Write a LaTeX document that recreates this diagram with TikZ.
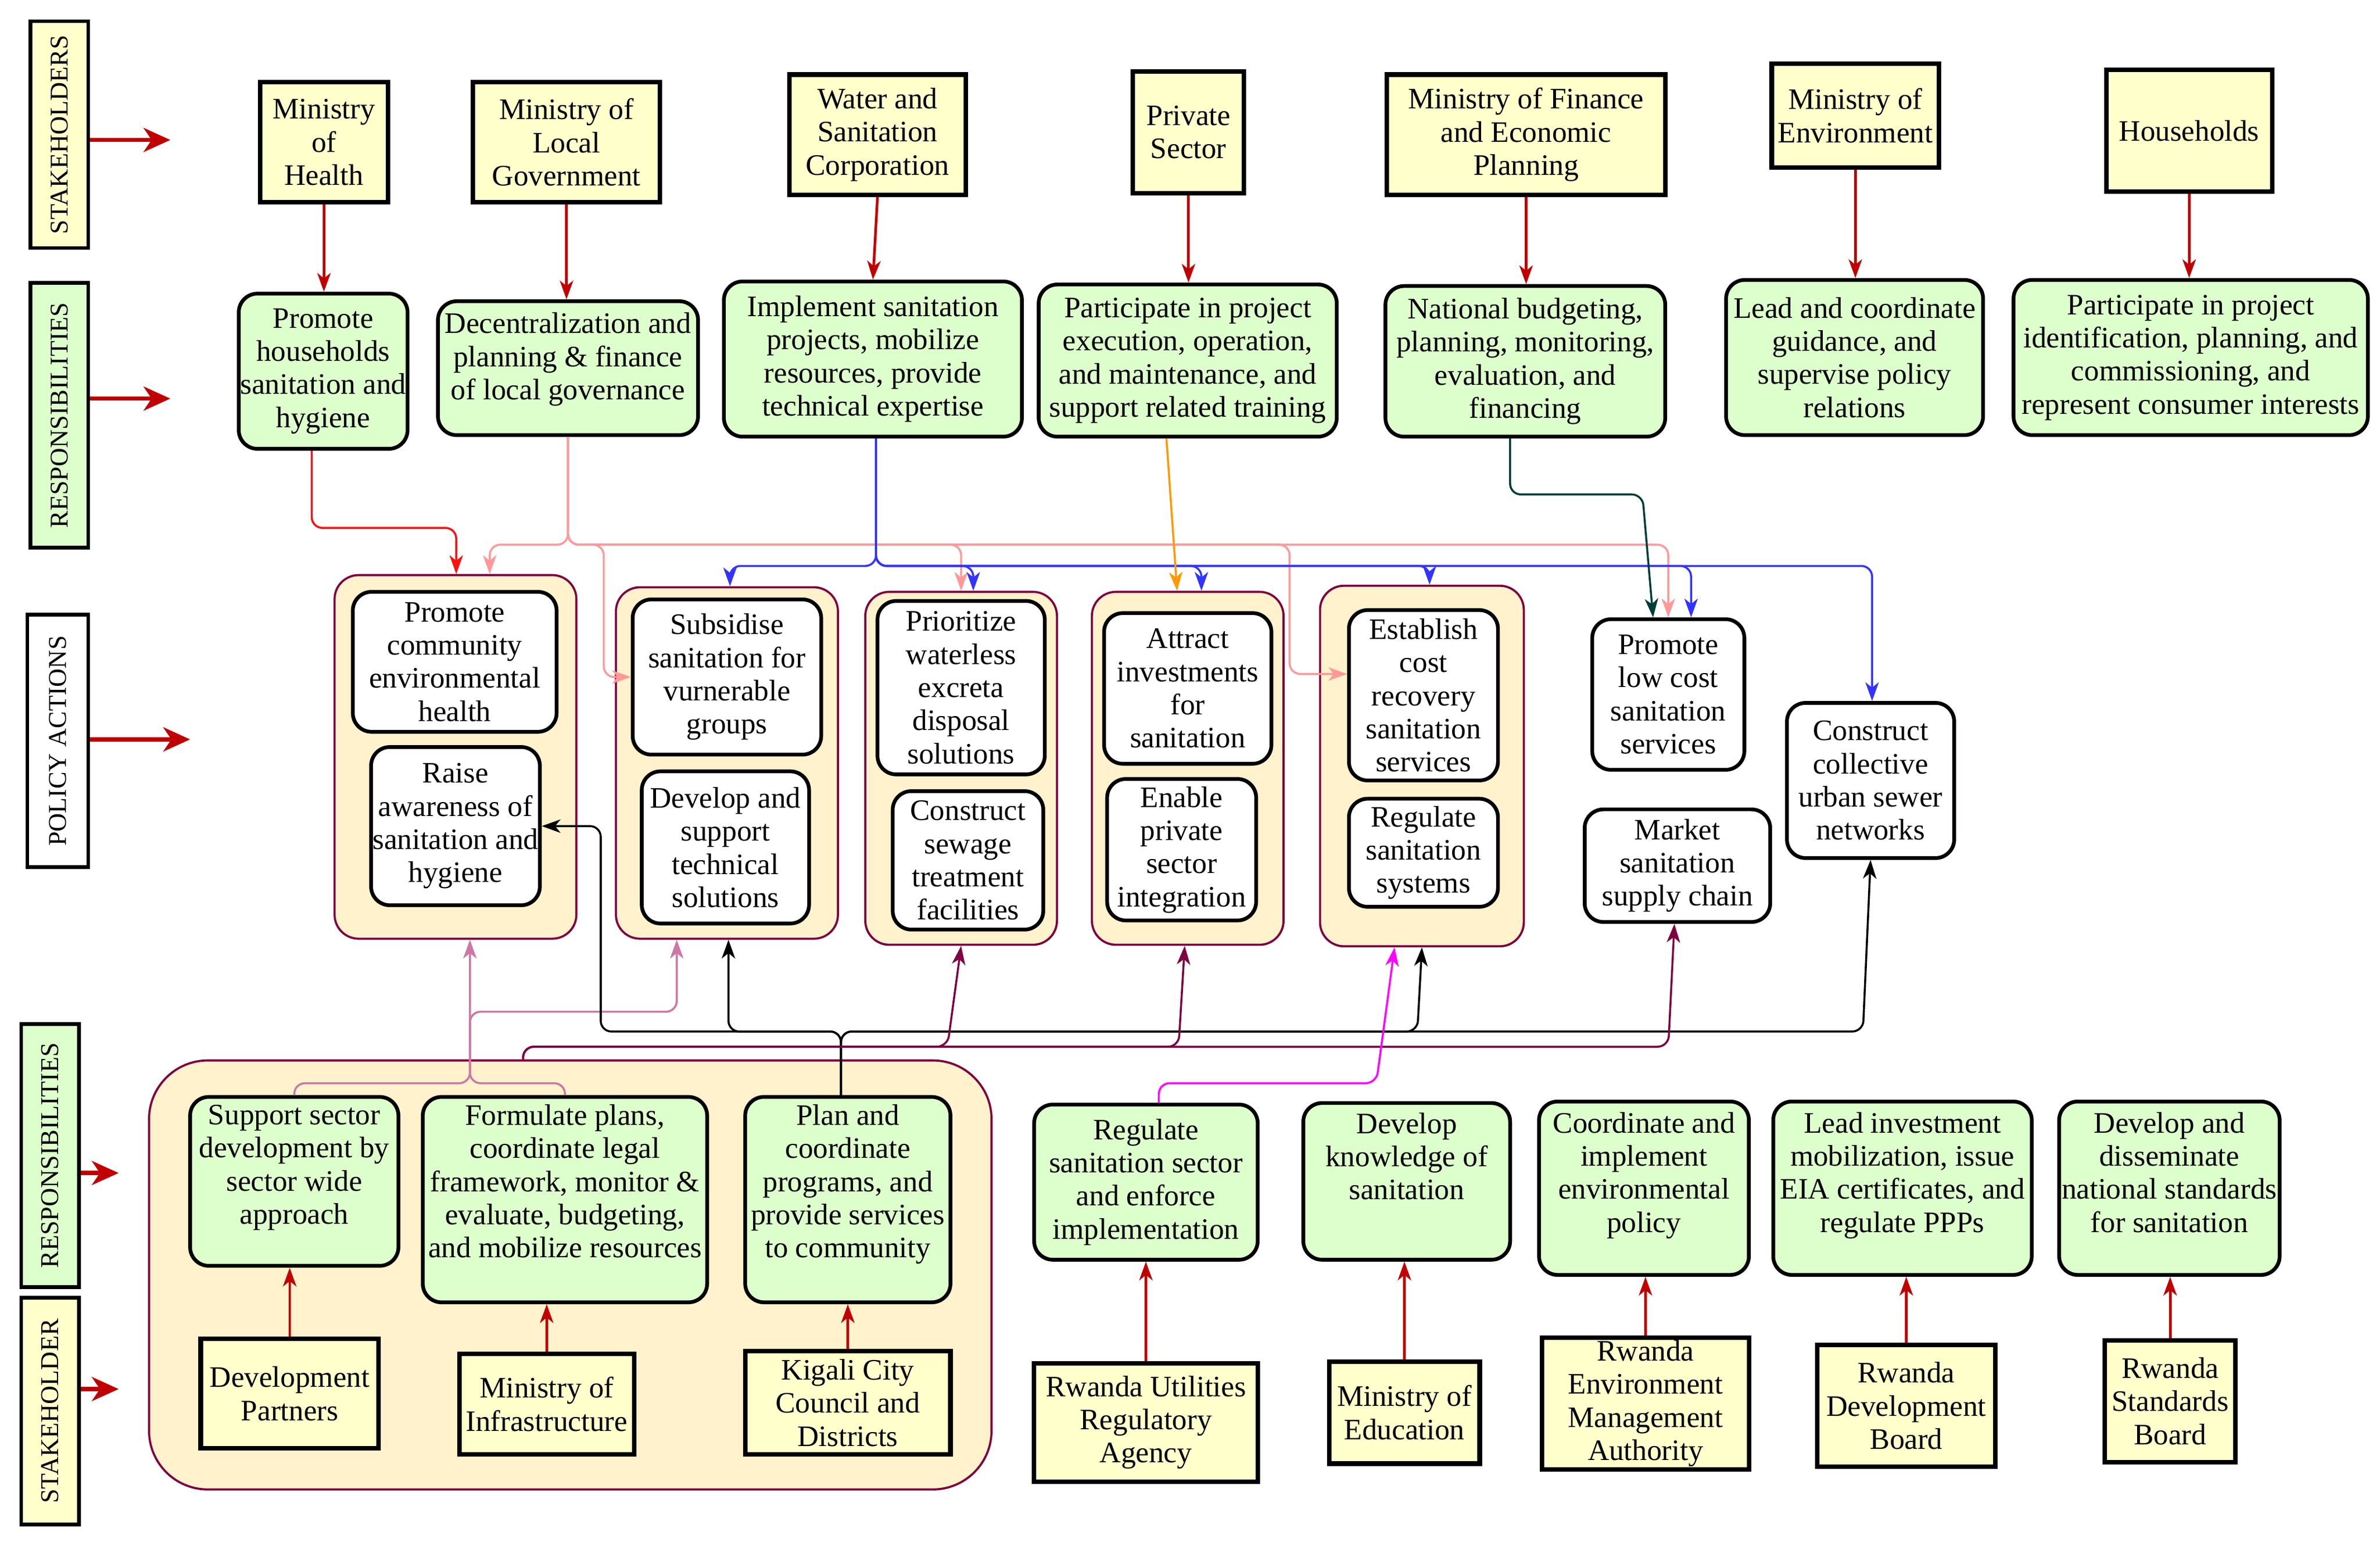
\documentclass[tikz,border=0pt]{standalone}
\usepackage{fontspec}
\setmainfont{Liberation Serif}
\renewcommand{\familydefault}{\rmdefault}
\usetikzlibrary{arrows.meta}

\definecolor{stakefill}{HTML}{FFFFCC}
\definecolor{respfill}{HTML}{DDFFCC}
\definecolor{grpfill}{HTML}{FFF2CC}
\definecolor{grpline}{HTML}{7F0040}
\definecolor{darkred}{HTML}{C00000}
\definecolor{linkred}{HTML}{FF1010}
\definecolor{linkpink}{HTML}{FF9999}
\definecolor{linkblue}{HTML}{3333FF}
\definecolor{linkorange}{HTML}{FF9900}
\definecolor{linkteal}{HTML}{003D3A}
\definecolor{linkmauve}{HTML}{CC77A6}
\definecolor{linkmaroon}{HTML}{7F0040}
\definecolor{linkmagenta}{HTML}{FF00FF}

\newcommand{\nodetextfont}{\rmfamily\fontsize{11.1}{12.4}\selectfont}
\newcommand{\sidetextfont}{\rmfamily\fontsize{9.6}{11}\selectfont}

\begin{document}
\begin{tikzpicture}[x=0.02cm, y=-0.02cm]
	\tikzstyle{every node}=[align=center, inner xsep=0pt, inner ysep=1pt, font=\nodetextfont]
	\tikzset{sz/.style 2 args={minimum width=#1*0.02cm, minimum height=#2*0.02cm},
		lift/.style={text depth=#1}}
	\tikzstyle{side}=[draw, line width=1.4pt, rotate=90, font=\sidetextfont]
	\tikzstyle{stake}=[draw, line width=1.7pt, fill=stakefill]
	\tikzstyle{resp}=[draw, line width=1.4pt, fill=respfill, rounded corners=7pt]
	\tikzstyle{act}=[draw, line width=1.4pt, fill=white, rounded corners=7pt]
	\tikzstyle{grp}=[draw=grpline, line width=0.8pt, fill=grpfill, rounded corners=9pt]
	\tikzstyle{link}=[->, >={Stealth[length=7pt, width=5pt, inset=2pt]}, line width=0.75pt, rounded corners=4pt]
	\tikzstyle{feed}=[link, darkred, line width=1pt]
	\tikzstyle{sidearr}=[->, >={Stealth[length=10pt, width=9pt, inset=3pt]}, darkred, line width=1.6pt]

	\useasboundingbox (0,0) rectangle (1565,1016);

	% row labels
	\node[side, sz={149}{38}, fill=stakefill] (lstake)  at (39,88.5)  {STAKEHOLDERS};
	\node[side, sz={174}{38}, fill=respfill]  (lresp)   at (39,273)   {RESPONSIBILITIES};
	\node[side, sz={166}{40}, fill=white]     (lact)    at (38,487)   {POLICY ACTIONS};
	\node[side, sz={173}{38}, fill=respfill]  (lresp2)  at (33,759.5) {RESPONSIBILITIES};
	\node[side, sz={149}{38}, fill=stakefill] (lstake2) at (33,927.5) {STAKEHOLDER};

	\coordinate (tstake)  at (112,92);
	\coordinate (tresp)   at (112,262);
	\coordinate (tact)    at (125,486);
	\coordinate (tresp2)  at (78,771);
	\coordinate (tstake2) at (78,913);

	% stakeholders, top
	\node[stake, sz={84}{79}]  (moh)       at (213,93.5)   {Ministry\\of\\Health};
	\node[stake, sz={123}{79}] (molg)      at (372.5,93.5) {Ministry of\\Local\\Government};
	\node[stake, sz={116}{79}] (wasac)     at (577,88.5)   {Water and\\Sanitation\\Corporation};
	\node[stake, sz={73}{80}]  (priv)      at (781.5,87)   {Private\\Sector};
	\node[stake, sz={183}{79}] (minecofin) at (1003.5,88.5) {Ministry of Finance\\and Economic\\Planning};
	\node[stake, sz={110}{68}] (moe)       at (1220,76)    {Ministry of\\Environment};
	\node[stake, sz={109}{80}] (hh)        at (1439.5,86)  {Households};

	% responsibilities, top
	\node[resp, sz={111}{102}] (rmoh)       at (212.5,244)  {Promote\\households\\sanitation and\\hygiene};
	\node[resp, sz={171}{88}, lift=9pt] (rmolg) at (373.5,242) {Decentralization and\\planning \& finance\\of local governance};
	\node[resp, sz={196}{102}] (rwasac)     at (574,236)    {Implement sanitation\\projects, mobilize\\resources, provide\\technical expertise};
	\node[resp, sz={196}{100}] (rpriv)      at (781,237)    {Participate in project\\execution, operation,\\and maintenance, and\\support related training};
	\node[resp, sz={184}{99}]  (rminecofin) at (1003,237.5) {National budgeting,\\planning, monitoring,\\evaluation, and\\financing};
	\node[resp, sz={169}{102}] (rmoe)       at (1219.5,235) {Lead and coordinate\\guidance, and\\supervise policy\\relations};
	\node[resp, sz={233}{102}] (rhh)        at (1440.5,235) {Participate in project\\identification, planning, and\\commissioning, and\\represent consumer interests};

	% policy actions
	\node[grp, sz={159}{239}] (g1) at (299.5,497.5) {};
	\node[grp, sz={146}{231}] (g2) at (478,501.5) {};
	\node[grp, sz={126}{232}] (g3) at (632,505) {};
	\node[grp, sz={126}{232}] (g4) at (781,505) {};
	\node[grp, sz={134}{237}] (g5) at (935,503.5) {};

	\node[act, sz={134}{92}]  (a1)  at (299,435)    {Promote\\community\\environmental\\health};
	\node[act, sz={111}{104}] (a2)  at (299.5,543)  {Raise\\awareness of\\sanitation and\\hygiene};
	\node[act, sz={124}{102}] (a3)  at (478,445)    {Subsidise\\sanitation for\\vurnerable\\groups};
	\node[act, sz={110}{100}] (a4)  at (477,557)    {Develop and\\support\\technical\\solutions};
	\node[act, sz={110}{114}] (a5)  at (632,452)    {Prioritize\\waterless\\excreta\\disposal\\solutions};
	\node[act, sz={99}{91}]   (a6)  at (636.5,565.5) {Construct\\sewage\\treatment\\facilities};
	\node[act, sz={110}{99}]  (a7)  at (781,452.5)  {Attract\\investments\\for\\sanitation};
	\node[act, sz={98}{93}]   (a8)  at (777,558.5)  {Enable\\private\\sector\\integration};
	\node[act, sz={98}{112}]  (a9)  at (936,457)    {Establish\\cost\\recovery\\sanitation\\services};
	\node[act, sz={98}{71}]   (a10) at (936,560.5)  {Regulate\\sanitation\\systems};
	\node[act, sz={100}{99}]  (a11) at (1097,456.5) {Promote\\low cost\\sanitation\\services};
	\node[act, sz={110}{102}] (a12) at (1230,513)   {Construct\\collective\\urban sewer\\networks};
	\node[act, sz={122}{74}]  (a13) at (1103,569)   {Market\\sanitation\\supply chain};

	% responsibilities and stakeholders, bottom
	\node[grp, sz={554}{282}, rounded corners=22pt] (gb) at (375,838) {};

	\node[resp, sz={137}{111}, lift=12.6pt] (b1) at (193.5,776.5) {Support sector\\development by\\sector wide\\approach};
	\node[resp, sz={187}{135}, lift=13.8pt] (b2) at (371.5,788.5) {Formulate plans,\\coordinate legal\\framework, monitor \&\\evaluate, budgeting,\\and mobilize resources};
	\node[resp, sz={135}{135}, lift=13.8pt] (b3) at (557.5,788.5) {Plan and\\coordinate\\programs, and\\provide services\\to community};
	\node[resp, sz={147}{102}] (b4) at (753.5,777) {Regulate\\sanitation sector\\and enforce\\implementation};
	\node[resp, sz={136}{103}, lift=18.9pt] (b5) at (925,776.5) {Develop\\knowledge of\\sanitation};
	\node[resp, sz={138}{114}, lift=12pt] (b6) at (1081,781) {Coordinate and\\implement\\environmental\\policy};
	\node[resp, sz={170}{114}, lift=12pt] (b7) at (1251,781) {Lead investment\\mobilization, issue\\EIA certificates, and\\regulate PPPs};
	\node[resp, sz={145}{114}, lift=12pt] (b8) at (1426.5,781) {Develop and\\disseminate\\national standards\\for sanitation};

	\node[stake, sz={117}{72}]  (s1) at (190.5,916)  {Development\\Partners};
	\node[stake, sz={115}{66}]  (s2) at (359.5,923)  {Ministry of\\Infrastructure};
	\node[stake, sz={135}{68}]  (s3) at (557.5,922)  {Kigali City\\Council and\\Districts};
	\node[stake, sz={147}{78}]  (s4) at (753.5,935)  {Rwanda Utilities\\Regulatory\\Agency};
	\node[stake, sz={99}{67}]   (s5) at (923.5,928.5) {Ministry of\\Education};
	\node[stake, sz={136}{83}]  (s6) at (1082,922.5) {Rwanda\\Environment\\Management\\Authority};
	\node[stake, sz={117}{80}]  (s7) at (1253.5,924) {Rwanda\\Development\\Board};
	\node[stake, sz={86}{80}]   (s8) at (1427,921)   {Rwanda\\Standards\\Board};

	% row label arrows
	\draw[sidearr] (lstake.south |- tstake) -- (tstake);
	\draw[sidearr] (lresp.south |- tresp) -- (tresp);
	\draw[sidearr] (lact.south |- tact) -- (tact);
	\draw[sidearr] (lresp2.south |- tresp2) -- (tresp2);
	\draw[sidearr] (lstake2.south |- tstake2) -- (tstake2);

	% stakeholder to responsibility
	\draw[feed] (moh.south) -- (moh.south |- rmoh.north);
	\draw[feed] (molg.south) -- (molg.south |- rmolg.north);
	\draw[feed] (wasac.south) -- (rwasac.north);
	\draw[feed] (priv.south) -- (priv.south |- rpriv.north);
	\draw[feed] (minecofin.south) -- (minecofin.south |- rminecofin.north);
	\draw[feed] (moe.south) -- (moe.south |- rmoe.north);
	\draw[feed] (hh.south) -- (hh.south |- rhh.north);

	\draw[feed] (s1.north) -- (s1.north |- b1.south);
	\draw[feed] (s2.north) -- (s2.north |- b2.south);
	\draw[feed] (s3.north) -- (s3.north |- b3.south);
	\draw[feed] (s4.north) -- (s4.north |- b4.south);
	\draw[feed] (s5.north) -- (s5.north |- b5.south);
	\draw[feed] (s6.north) -- (s6.north |- b6.south);
	\draw[feed] (s7.north) -- (s7.north |- b7.south);
	\draw[feed] (s8.north) -- (s8.north |- b8.south);

	% top responsibilities to policy actions
	\draw[link, linkred] (205,0 |- rmoh.south) |- (300,347) -- (300,0 |- g1.north);

	\draw[link, linkpink] (rmolg.south) |- (322,358) -- (322,0 |- g1.north);
	\draw[link, linkpink] (rmolg.south) |- (397,358) |- (a3.west);
	\draw[link, linkpink] (rmolg.south) |- (632,358) -- (632,0 |- g3.north);
	\draw[link, linkpink] (rmolg.south) |- (848,358) |- (a9.west |- 0,443);
	\draw[link, linkpink] (rmolg.south) |- (1097,358) -- (1097,0 |- a11.north);

	\draw[link, linkblue] (576,0 |- rwasac.south) |- (480,372) -- (480,0 |- g2.north);
	\draw[link, linkblue] (576,0 |- rwasac.south) |- (640,372) -- (640,0 |- g3.north);
	\draw[link, linkblue] (576,0 |- rwasac.south) |- (790,372) -- (790,0 |- g4.north);
	\draw[link, linkblue] (576,0 |- rwasac.south) |- (940,372) -- (940,0 |- g5.north);
	\draw[link, linkblue] (576,0 |- rwasac.south) |- (1112,372) -- (1112,0 |- a11.north);
	\draw[link, linkblue] (576,0 |- rwasac.south) |- (1231,372) -- (1231,0 |- a12.north);

	\draw[link, linkorange] (767,0 |- rpriv.south) -- (774,0 |- g4.north);
	\draw[link, linkteal] (993,0 |- rminecofin.south) |- (1080,325) -- (1087,0 |- a11.north);

	% bottom responsibilities to policy actions
	\draw[link, linkmauve] (b1.north) |- (309,712) -- (309,0 |- g1.south);
	\draw[link, linkmauve] (b2.north) |- (309,712) -- (309,665) -| (445,0 |- g2.south);

	\draw[link] (553,0 |- b3.north) |- (395,678) |- (a2.east);
	\draw[link] (553,0 |- b3.north) |- (479,678) -- (479,0 |- g2.south);
	\draw[link] (553,0 |- b3.north) |- (932,678) -- (935,0 |- g5.south);
	\draw[link] (553,0 |- b3.north) |- (1225,678) -- (1230,0 |- a12.south);

	\draw[link, linkmaroon] (344,0 |- gb.north) |- (623,688) -- (632,0 |- g3.south);
	\draw[link, linkmaroon] (344,0 |- gb.north) |- (775,688) -- (779,0 |- g4.south);
	\draw[link, linkmaroon] (344,0 |- gb.north) |- (1097,688) -- (1101,0 |- a13.south);

	\draw[link, linkmagenta] (762,0 |- b4.north) |- (905,712) -- (917,0 |- g5.south);
\end{tikzpicture}
\end{document}
